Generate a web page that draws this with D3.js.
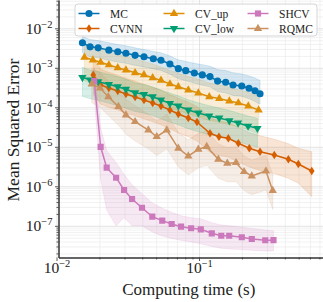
<!DOCTYPE html>
<html><head><meta charset="utf-8">
<script src="https://cdn.jsdelivr.net/npm/d3@7"></script>
<style>html,body{margin:0;padding:0;background:#fff;} svg{display:block;}</style>
</head><body><svg id="c" width="323" height="302"></svg>
<script>
// ---------------- data ----------------
const seriesNames = ["MC","CVNN","CV_up","CV_low","SHCV","RQMC"];
const seriesColors = ["#0173B2","#D55E00","#DE8F05","#029E73","#CC78BC","#CA9161"];
const seriesMarkers = ["circle","thindiamond","triup","tridown","square","triup"];

const mcT  = [0.0152,0.0172,0.0196,0.0233,0.0269,0.0307,0.0356,0.0411,0.0478,0.0541,0.0625,0.0716,0.0807,0.0927,0.1055,0.1194,0.135,0.1538,0.1733,0.1995,0.2244,0.247,0.268];
const mcV  = [4.3e-3,3.4e-3,3.2e-3,2.8e-3,2.55e-3,2.33e-3,2.07e-3,1.9e-3,1.7e-3,1.55e-3,1.25e-3,9.5e-4,8.45e-4,7.4e-4,6.6e-4,6.0e-4,4.6e-4,4.3e-4,3.67e-4,3.46e-4,3.03e-4,2.63e-4,2.2e-4];
const mcHi = [6.2e-3,5.2e-3,4.9e-3,4.3e-3,3.9e-3,3.6e-3,3.2e-3,2.9e-3,2.6e-3,2.4e-3,2.0e-3,1.6e-3,1.45e-3,1.3e-3,1.2e-3,1.1e-3,9.0e-4,8.5e-4,7.5e-4,7.0e-4,6.2e-4,5.5e-4,4.8e-4];
const mcLo = [2.4e-3,1.9e-3,1.8e-3,1.55e-3,1.4e-3,1.3e-3,1.15e-3,1.05e-3,9.4e-4,8.6e-4,6.9e-4,5.3e-4,4.7e-4,4.1e-4,3.6e-4,3.3e-4,2.5e-4,2.3e-4,2.0e-4,1.9e-4,1.65e-4,1.4e-4,1.2e-4];

const cvnnT  = [0.0181,0.0204,0.0233,0.0269,0.0307,0.0356,0.0411,0.0473,0.0541,0.0625,0.0716,0.0841,0.0968,0.1194,0.138,0.1606,0.1888,0.2254,0.268,0.3375,0.4236,0.4977,0.618];
const cvnnV  = [6.6e-4,3.67e-4,3.08e-4,2.59e-4,2.17e-4,1.82e-4,1.53e-4,1.29e-4,1.08e-4,8.55e-5,6.77e-5,5.36e-5,4.24e-5,2.2e-5,1.8e-5,1.64e-5,1.23e-5,9.2e-6,7.5e-6,6.2e-6,4.83e-6,3.67e-6,2.44e-6];
const cvnnHi = [1.65e-3,9.2e-4,7.7e-4,6.5e-4,5.4e-4,4.6e-4,3.8e-4,3.2e-4,2.7e-4,2.1e-4,1.7e-4,1.35e-4,1.05e-4,5.5e-5,4.5e-5,4.1e-5,3.1e-5,2.3e-5,1.9e-5,1.55e-5,1.2e-5,9.2e-6,7.5e-6];
const cvnnLo = [2.2e-4,1.2e-4,1.0e-4,8.6e-5,7.2e-5,6.1e-5,5.1e-5,4.3e-5,3.6e-5,2.85e-5,2.25e-5,1.8e-5,1.4e-5,7.3e-6,6.0e-6,5.5e-6,4.1e-6,3.1e-6,2.5e-6,2.1e-6,1.6e-6,1.2e-6,5.5e-7];

const cvUpT  = [0.0157,0.0180,0.0204,0.0233,0.0269,0.0307,0.0356,0.0411,0.0473,0.0541,0.0625,0.0716,0.0841,0.0989,0.118,0.1387,0.1632,0.1888,0.2218,0.262];
const cvUpV  = [1.85e-3,1.57e-3,1.38e-3,1.18e-3,1.0e-3,8.8e-4,7.5e-4,6.6e-4,5.6e-4,4.8e-4,3.9e-4,3.3e-4,2.74e-4,2.3e-4,1.85e-4,1.67e-4,1.44e-4,1.29e-4,1.08e-4,8.5e-5];
const cvUpHi = [4.0e-3,3.4e-3,3.0e-3,2.6e-3,2.2e-3,1.9e-3,1.65e-3,1.45e-3,1.25e-3,1.05e-3,8.6e-4,7.3e-4,6.0e-4,5.1e-4,4.1e-4,3.7e-4,3.2e-4,2.8e-4,2.4e-4,1.9e-4];
const cvUpLo = [4.6e-4,3.9e-4,3.4e-4,2.9e-4,2.5e-4,2.2e-4,1.9e-4,1.65e-4,1.4e-4,1.2e-4,9.8e-5,8.2e-5,6.8e-5,5.7e-5,4.6e-5,4.2e-5,3.6e-5,3.2e-5,2.7e-5,2.1e-5];

const cvLowT  = [0.0152,0.0172,0.0196,0.0233,0.0269,0.0307,0.0356,0.0411,0.0473,0.0541,0.0625,0.0716,0.0841,0.0989,0.118,0.1387,0.1632,0.188,0.221,0.257];
const cvLowV  = [5.74e-4,4.91e-4,4.45e-4,3.82e-4,3.32e-4,2.86e-4,2.34e-4,2.13e-4,1.85e-4,1.53e-4,1.26e-4,1.08e-4,8.55e-5,7.18e-5,6.03e-5,5.36e-5,4.6e-5,4.0e-5,3.35e-5,2.94e-5];
const cvLowHi = [1.03e-3,8.8e-4,8.0e-4,6.9e-4,6.0e-4,5.1e-4,4.2e-4,3.8e-4,3.3e-4,2.75e-4,2.3e-4,1.95e-4,1.55e-4,1.3e-4,1.1e-4,9.6e-5,8.3e-5,7.2e-5,6.0e-5,5.3e-5];
const cvLowLo = [1.9e-4,1.65e-4,1.5e-4,1.27e-4,1.1e-4,9.5e-5,7.8e-5,7.1e-5,6.2e-5,5.1e-5,4.2e-5,3.6e-5,2.85e-5,2.4e-5,2.0e-5,1.8e-5,1.55e-5,1.35e-5,1.12e-5,9.8e-6];

const shcvT  = [0.0184,0.0204,0.0225,0.0262,0.0298,0.0339,0.0398,0.0470,0.0552,0.0643,0.0748,0.0880,0.1029,0.1229,0.1432,0.1629,0.1996,0.2346,0.2916,0.3331];
const shcvV  = [4.6e-4,1.0e-5,2.96e-6,1.65e-6,8.05e-7,4.76e-7,2.87e-7,1.7e-7,1.35e-7,1.11e-7,9.5e-8,8.65e-8,8.15e-8,6.45e-8,5.61e-8,5.61e-8,5.12e-8,4.63e-8,4.3e-8,4.33e-8];
const shcvHi = [1.0e-3,3.0e-5,8.0e-6,4.0e-6,2.0e-6,1.1e-6,6.5e-7,3.8e-7,2.8e-7,2.2e-7,1.8e-7,1.6e-7,1.5e-7,1.2e-7,1.05e-7,1.0e-7,9.2e-8,8.5e-8,7.8e-8,7.5e-8];
const shcvLo = [2.0e-4,1.5e-6,2.5e-7,1.0e-7,1.6e-7,1.0e-7,1.0e-7,7.0e-8,5.5e-8,4.8e-8,4.3e-8,3.9e-8,3.5e-8,3.0e-8,2.7e-8,2.6e-8,2.5e-8,2.4e-8,2.3e-8,2.3e-8];

const rqmcT  = [0.01766,0.0202,0.0231,0.0272,0.0307,0.0356,0.0441,0.0505,0.0594,0.0716,0.0841,0.0989,0.1133,0.1366,0.158,0.182,0.207,0.2344,0.295,0.329];
const rqmcV  = [3.89e-4,3.08e-4,1.85e-4,1.04e-4,6.38e-5,4.32e-5,2.66e-5,1.8e-5,2.66e-5,9.16e-6,5.85e-6,8.65e-6,1.01e-5,4.83e-6,3.82e-6,3.96e-6,2.34e-6,1.82e-6,2.44e-6,7.75e-7];
const rqmcHi = [9.7e-4,7.7e-4,4.6e-4,2.6e-4,1.6e-4,1.1e-4,6.7e-5,4.5e-5,6.7e-5,2.3e-5,1.5e-5,2.2e-5,2.5e-5,1.2e-5,9.5e-6,1.0e-5,5.9e-6,4.6e-6,6.1e-6,2.0e-6];
const rqmcLo = [1.3e-4,1.0e-4,6.2e-5,3.5e-5,2.1e-5,1.4e-5,8.9e-6,6.0e-6,8.9e-6,3.1e-6,1.95e-6,2.9e-6,3.4e-6,1.6e-6,1.3e-6,1.3e-6,7.8e-7,6.1e-7,8.1e-7,2.6e-7];

const xTickExps = [-2,-1];
const yTickExps = [-7,-6,-5,-4,-3,-2];
const xLabel = "Computing time (s)";
const yLabel = "Mean Squared Error";

// --------------- build ---------------
const series = [
  {t:mcT,v:mcV,lo:mcLo,hi:mcHi},
  {t:cvnnT,v:cvnnV,lo:cvnnLo,hi:cvnnHi},
  {t:cvUpT,v:cvUpV,lo:cvUpLo,hi:cvUpHi},
  {t:cvLowT,v:cvLowV,lo:cvLowLo,hi:cvLowHi},
  {t:shcvT,v:shcvV,lo:shcvLo,hi:shcvHi},
  {t:rqmcT,v:rqmcV,lo:rqmcLo,hi:rqmcHi}
].map((s,i)=>({...s,name:seriesNames[i],color:seriesColors[i],marker:seriesMarkers[i],
  pts:s.t.map((t,j)=>({t,v:s.v[j],lo:s.lo[j],hi:s.hi[j]}))}));

const FONT = "'Liberation Serif','Times New Roman',serif";
const svg = d3.select("#c");
const M = {l:58.5, r:323, t:0, b:257.5};
const x = d3.scaleLog().domain([Math.pow(10,-1.986), Math.pow(10,-0.13)]).range([M.l, M.r]);
const y = d3.scaleLog().domain([Math.pow(10,-7.8025), Math.pow(10,-1.2835)]).range([M.b, M.t]);

function minorTicks(scale){
  const [a,b] = scale.domain(); const out=[];
  for(let e=Math.floor(Math.log10(a)); e<=Math.ceil(Math.log10(b)); e++){
    for(let k=2;k<=9;k++){const v=k*Math.pow(10,e); if(v>=a&&v<=b) out.push(v);}
  }
  return out;
}
const xMaj = xTickExps.map(e=>Math.pow(10,e));
const yMaj = yTickExps.map(e=>Math.pow(10,e));
const xMin = minorTicks(x), yMin = minorTicks(y);

svg.append("defs").append("clipPath").attr("id","clip").append("rect")
  .attr("x",M.l).attr("y",M.t).attr("width",M.r-M.l).attr("height",M.b-M.t);

// grid
const grid = svg.append("g");
grid.append("g").attr("transform",`translate(0,${M.b})`)
  .call(d3.axisBottom(x).tickValues(xMin).tickSize(-(M.b-M.t)).tickFormat(""))
  .call(g=>{g.select(".domain").remove(); g.selectAll("line").attr("stroke","#ebebeb").attr("stroke-width",0.7);});
grid.append("g").attr("transform",`translate(${M.l},0)`)
  .call(d3.axisLeft(y).tickValues(yMin).tickSize(-(M.r-M.l)).tickFormat(""))
  .call(g=>{g.select(".domain").remove(); g.selectAll("line").attr("stroke","#ebebeb").attr("stroke-width",0.7);});
grid.append("g").attr("transform",`translate(0,${M.b})`)
  .call(d3.axisBottom(x).tickValues(xMaj).tickSize(-(M.b-M.t)).tickFormat(""))
  .call(g=>{g.select(".domain").remove(); g.selectAll("line").attr("stroke","#dcdcdc").attr("stroke-width",0.8);});
grid.append("g").attr("transform",`translate(${M.l},0)`)
  .call(d3.axisLeft(y).tickValues(yMaj).tickSize(-(M.r-M.l)).tickFormat(""))
  .call(g=>{g.select(".domain").remove(); g.selectAll("line").attr("stroke","#dcdcdc").attr("stroke-width",0.8);});

// bands
const plot = svg.append("g").attr("clip-path","url(#clip)");
const area = d3.area().x(d=>x(d.t)).y0(d=>y(d.lo)).y1(d=>y(d.hi));
series.forEach(s=>{
  plot.append("path").datum(s.pts).attr("d",area).attr("fill",s.color).attr("fill-opacity",0.16)
    .attr("stroke",s.color).attr("stroke-opacity",0.18).attr("stroke-width",0.8);
});

// markers
function markerPath(kind){
  if(kind==="circle") return d3.symbol(d3.symbolCircle, 40)();
  if(kind==="square") return d3.symbol(d3.symbolSquare, 38)();
  if(kind==="triup") return d3.symbol(d3.symbolTriangle, 30)();
  if(kind==="tridown") return d3.symbol(d3.symbolTriangle, 30)();
  if(kind==="thindiamond") return "M0,-4.3L2.8,0L0,4.3L-2.8,0Z";
}
const line = d3.line().x(d=>x(d.t)).y(d=>y(d.v));
series.forEach(s=>{
  const g = plot.append("g");
  g.append("path").datum(s.pts).attr("d",line).attr("fill","none").attr("stroke",s.color).attr("stroke-width",1.5);
  g.selectAll("path.m").data(s.pts).join("path").attr("class","m")
    .attr("d",markerPath(s.marker))
    .attr("transform",d=>`translate(${x(d.t)},${y(d.v)})`+(s.marker==="tridown"?" rotate(180)":""))
    .attr("fill",s.color);
});

// axes
const axCol = "#333";
function styleAxis(g){ g.select(".domain").attr("stroke",axCol).attr("stroke-width",1); g.selectAll("line").attr("stroke",axCol).attr("stroke-width",0.8);}
svg.append("g").attr("transform",`translate(0,${M.b})`)
  .call(d3.axisBottom(x).tickValues(xMin).tickSize(2).tickSizeOuter(0).tickFormat("")).call(styleAxis);
const xa = svg.append("g").attr("transform",`translate(0,${M.b})`)
  .call(d3.axisBottom(x).tickValues(xMaj).tickSize(3.5).tickSizeOuter(0).tickFormat("")).call(styleAxis);
svg.append("g").attr("transform",`translate(${M.l},0)`)
  .call(d3.axisLeft(y).tickValues(yMin).tickSize(2).tickSizeOuter(0).tickFormat("")).call(styleAxis);
const ya = svg.append("g").attr("transform",`translate(${M.l},0)`)
  .call(d3.axisLeft(y).tickValues(yMaj).tickSize(3.5).tickSizeOuter(0).tickFormat("")).call(styleAxis);

function powLabel(sel, e){
  sel.append("tspan").text("10");
  sel.append("tspan").attr("dy",-6).attr("font-size",10.5).text("\u2212"+Math.abs(e));
}
xa.selectAll(".tick").each(function(d,i){
  const t = d3.select(this).append("text").attr("fill","#222").attr("font-family",FONT).attr("font-size",15.5)
    .attr("x",0).attr("y",15).attr("text-anchor","middle");
  powLabel(t, xTickExps[i]);
});
ya.selectAll(".tick").each(function(d,i){
  const t = d3.select(this).append("text").attr("fill","#222").attr("font-family",FONT).attr("font-size",15.5)
    .attr("x",-6).attr("y",5).attr("text-anchor","end");
  powLabel(t, yTickExps[i]);
});

svg.append("text").attr("x",(M.l+M.r)/2-2).attr("y",295).attr("text-anchor","middle")
  .attr("font-family",FONT).attr("font-size",17).attr("fill","#222").text(xLabel);
svg.append("text").attr("transform",`translate(19,130) rotate(-90)`).attr("text-anchor","middle")
  .attr("font-family",FONT).attr("font-size",17.5).attr("fill","#222").text(yLabel);

// legend
const lg = svg.append("g");
lg.append("rect").attr("x",75).attr("y",4).attr("width",242).attr("height",32).attr("rx",3)
  .attr("fill","#fff").attr("fill-opacity",0.85).attr("stroke","#cccccc").attr("stroke-width",0.8);
const colX = [78.5,163.5,247.5], rowY = [13.5,28.5];
series.forEach((s,i)=>{
  const cx = colX[Math.floor(i/2)], cy = rowY[i%2];
  lg.append("line").attr("x1",cx).attr("x2",cx+21).attr("y1",cy).attr("y2",cy).attr("stroke",s.color).attr("stroke-width",1.5);
  lg.append("path").attr("d",markerPath(s.marker)).attr("fill",s.color)
    .attr("transform",`translate(${cx+10.5},${cy})`+(s.marker==="tridown"?" rotate(180)":""));
  lg.append("text").attr("x",cx+31.5).attr("y",cy+4).attr("font-family",FONT).attr("font-size",11.5).attr("fill","#222").text(s.name);
});
</script></body></html>
